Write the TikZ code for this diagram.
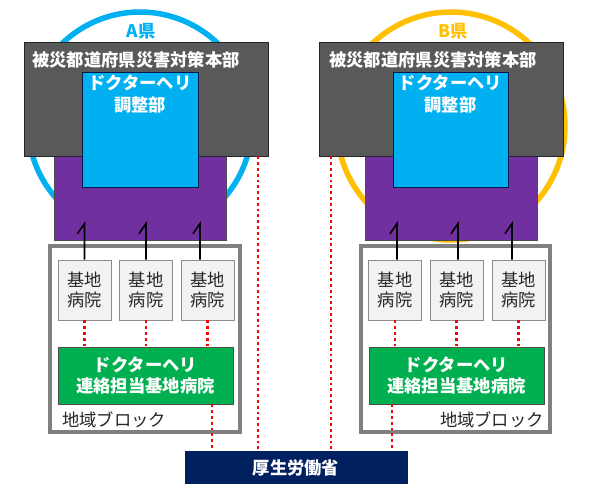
\documentclass[tikz,border=0pt]{standalone}
\usepackage{fontspec}
\setmainfont{Noto Sans CJK JP}
\definecolor{hqgray}{HTML}{595959}
\definecolor{heliblue}{HTML}{00B0F0}
\definecolor{purp}{HTML}{7030A0}
\definecolor{grn}{HTML}{00B050}
\definecolor{navy}{HTML}{002060}
\definecolor{gold}{HTML}{FFC000}
\definecolor{hosp}{HTML}{F2F2F2}
\definecolor{hospline}{HTML}{8C8C8C}
\definecolor{blockline}{HTML}{808080}
\begin{document}
\begin{tikzpicture}[x=1pt,y=-1pt,
  box/.style={draw, rectangle, inner sep=0pt},
  hqbox/.style={box, fill=hqgray, draw=black!85, line width=0.8pt},
  helibox/.style={box, fill=heliblue, draw=navy!80!black, line width=0.8pt},
  purpbox/.style={box, fill=purp, draw=black!70, line width=0.8pt},
  blockbox/.style={box, draw=blockline, line width=4pt, fill=white},
  hospbox/.style={box, fill=hosp, draw=hospline, line width=0.8pt, minimum width=53pt, minimum height=60pt, font=\fontsize{17.3}{20.5}\selectfont, align=center, text=black!85},
  greenbox/.style={box, fill=grn, draw=black!70, line width=0.8pt, minimum width=175pt, minimum height=57pt, font=\fontsize{17.3}{20.5}\selectfont\bfseries, align=center, text=white},
  wlabel/.style={inner sep=0pt, text=white, font=\fontsize{17.3}{22}\selectfont\bfseries, align=center},
  reddot/.style={draw=red, line width=2.6pt, dash pattern=on 2.8pt off 3pt},
  link/.style={draw=black, line width=1.6pt}
]
\useasboundingbox (0,0) rectangle (591,483);

% prefecture circles
\node[circle, draw=heliblue, line width=5.5pt, minimum size=224pt, inner sep=0pt] (cA) at (140,124) {};
\node[circle, draw=gold, line width=5.5pt, minimum size=228pt, inner sep=0pt] (cB) at (451,126) {};
\node[inner sep=0pt, text=heliblue, font=\fontsize{17.3}{17}\selectfont\bfseries] (labA) at (141,31) {A県};
\node[inner sep=0pt, text=gold, font=\fontsize{17.3}{17}\selectfont\bfseries] (labB) at (453,31) {B県};

% purple boxes
\node[purpbox, minimum width=172pt, minimum height=90pt] (pA) at (140,195) {};
\node[purpbox, minimum width=172pt, minimum height=90pt] (pB) at (451,195) {};

% headquarters boxes
\node[hqbox, minimum width=244pt, minimum height=114pt] (hqA) at (146,99) {};
\node[hqbox, minimum width=244pt, minimum height=114pt] (hqB) at (441,99) {};
\node[wlabel, anchor=west] (hqAt) at (32,60) {被災都道府県災害対策本部};
\node[wlabel, anchor=west] (hqBt) at (329,60) {被災都道府県災害対策本部};

% doctor-heli coordination boxes
\node[helibox, minimum width=116pt, minimum height=115pt] (dA) at (140,129.5) {};
\node[helibox, minimum width=115pt, minimum height=115pt] (dB) at (450.5,129.5) {};
\node[wlabel] (dAt) at (140,94) {ドクターヘリ\\調整部};
\node[wlabel] (dBt) at (450.5,94) {ドクターヘリ\\調整部};

% regional blocks
\node[blockbox, minimum width=190pt, minimum height=186pt] (rA) at (145,339) {};
\node[blockbox, minimum width=189pt, minimum height=186pt] (rB) at (455.5,339) {};
\node[inner sep=0pt, anchor=west, font=\fontsize{17.3}{17}\selectfont, text=black!85] (rAt) at (62,420) {地域ブロック};
\node[inner sep=0pt, anchor=east, font=\fontsize{17.3}{17}\selectfont, text=black!85] (rBt) at (544,420) {地域ブロック};

% base hospitals
\node[hospbox] (hA1) at (84.5,290) {基地\\病院};
\node[hospbox] (hA2) at (146,290) {基地\\病院};
\node[hospbox] (hA3) at (207.5,290) {基地\\病院};
\node[hospbox] (hB1) at (395,290) {基地\\病院};
\node[hospbox] (hB2) at (456.5,290) {基地\\病院};
\node[hospbox] (hB3) at (518.5,290) {基地\\病院};

% liaison base hospitals
\node[greenbox] (gA) at (145.5,375.5) {ドクターヘリ\\連絡担当基地病院};
\node[greenbox] (gB) at (456.5,375.5) {ドクターヘリ\\連絡担当基地病院};

% ministry
\node[box, fill=navy, draw=navy, minimum width=222pt, minimum height=33pt, text=white, font=\fontsize{17.3}{17}\selectfont\bfseries] (mh) at (296,467.5) {厚生労働省};

% black links hospital -> purple
\foreach \h/\dx in {hA1/0, hA2/0, hA3/-7.5, hB1/2, hB2/1.5, hB3/-6.5}{
  \draw[link, line join=miter] ([xshift=\dx pt]\h.north) -- ++(0,-36) -- ++(-7,10);
}

% red dotted links hospital -> green
\foreach \h/\g in {hA1/gA, hA2/gA, hA3/gA, hB1/gB, hB2/gB, hB3/gB}{
  \draw[reddot] (\h.south) -- (\h.south |- \g.north);
}
\draw[reddot] (gA.south -| 212,0) -- (mh.north -| 212,0);
\draw[reddot] (gB.south -| 392,0) -- (mh.north -| 392,0);
\draw[reddot] (hqA.south -| 258,0) -- (mh.north -| 258,0);
\draw[reddot] (hqB.south -| 331,0) -- (mh.north -| 331,0);
\end{tikzpicture}
\end{document}
